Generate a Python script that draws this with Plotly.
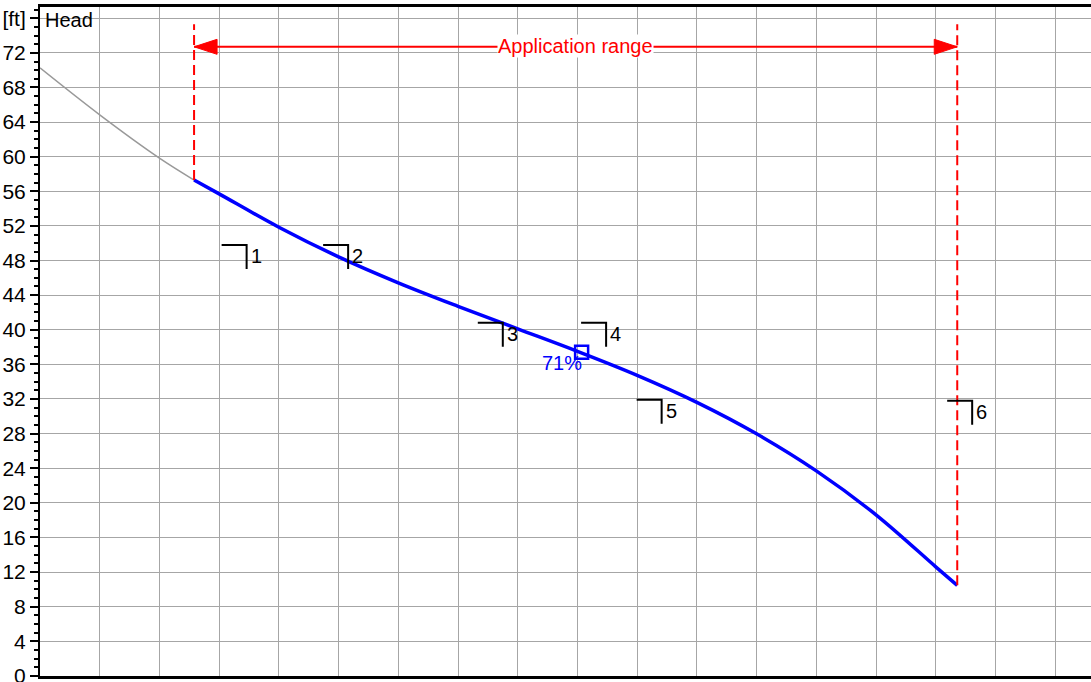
import plotly.graph_objects as go

# pump head curve, flow axis has no labels so flow is in grid units
flow_outside = [0, 1, 2, 2.58]
head_outside = [70.26, 64.83, 59.83, 57.3]

flow_app = [2.58, 3, 4, 5, 6, 7, 8, 9, 10, 11, 12, 13, 14, 15, 15.36]
head_app = [57.3, 55.7, 51.85, 48.42, 45.42, 42.7, 40.1, 37.5, 34.73, 31.61, 27.97, 23.69, 18.61, 12.6, 10.46]

duty_flow = [9.07]
duty_head = [37.4]
duty_label = ["71%"]

corner_labels = ["1", "2", "3", "4", "5", "6"]
corner_flow = [3.46, 5.16, 7.75, 9.48, 10.41, 15.61]
corner_head = [49.8, 49.8, 40.8, 40.8, 31.9, 31.8]

app_limits = [2.58, 15.36]
app_arrow_head = 72.7
app_top_head = 75.3

head_tickvals = [0, 4, 8, 12, 16, 20, 24, 28, 32, 36, 40, 44, 48, 52, 56, 60, 64, 68, 72, 76]
head_ticktext = ["0", "4", "8", "12", "16", "20", "24", "28", "32", "36", "40", "44",
                 "48", "52", "56", "60", "64", "68", "72", "[ft]"]

FONT = "Liberation Sans, Arial, sans-serif"
RED = "#ff0000"
BLUE = "#0000ff"

fig = go.Figure()

fig.add_trace(go.Scatter(x=flow_outside, y=head_outside, mode="lines",
                         line=dict(color="#999999", width=1.5, shape="spline"),
                         hoverinfo="skip"))
fig.add_trace(go.Scatter(x=flow_app, y=head_app, mode="lines",
                         line=dict(color=BLUE, width=3.5, shape="spline"),
                         hoverinfo="skip"))
fig.add_trace(go.Scatter(x=duty_flow, y=duty_head, mode="markers",
                         marker=dict(symbol="square-open", size=13, color=BLUE,
                                     line=dict(width=2.5, color=BLUE)),
                         hoverinfo="skip"))

shapes = []
# application range: dashed limits + arrow
for lim, h0 in zip(app_limits, [head_app[0], head_app[-1]]):
    shapes.append(dict(type="line", xref="x", yref="y", x0=lim, x1=lim, y0=h0, y1=app_top_head,
                       line=dict(color=RED, width=2, dash="10px,5px")))
shapes.append(dict(type="line", xref="x", yref="y", x0=app_limits[0], x1=app_limits[1],
                   y0=app_arrow_head, y1=app_arrow_head, line=dict(color=RED, width=2)))
shapes.append(dict(type="path", xref="x", yref="y", xsizemode="pixel", ysizemode="pixel",
                   xanchor=app_limits[0], yanchor=app_arrow_head,
                   path="M0,0 L23,7.5 L23,-7.5 Z", fillcolor=RED, line=dict(color=RED, width=1)))
shapes.append(dict(type="path", xref="x", yref="y", xsizemode="pixel", ysizemode="pixel",
                   xanchor=app_limits[1], yanchor=app_arrow_head,
                   path="M0,0 L-23,7.5 L-23,-7.5 Z", fillcolor=RED, line=dict(color=RED, width=1)))

# numbered corner marks
for fx, hy in zip(corner_flow, corner_head):
    shapes.append(dict(type="path", xref="x", yref="y", xsizemode="pixel", ysizemode="pixel",
                       xanchor=fx, yanchor=hy, path="M-25,0 L0,0 L0,-24",
                       line=dict(color="black", width=2)))

annotations = []
for lab, fx, hy in zip(corner_labels, corner_flow, corner_head):
    annotations.append(dict(x=fx, y=hy, xref="x", yref="y", text=lab, showarrow=False,
                            xanchor="left", yanchor="middle", xshift=2, yshift=-11,
                            font=dict(family=FONT, size=20, color="black")))

annotations.append(dict(x=duty_flow[0], y=duty_head[0], xref="x", yref="y", text=duty_label[0],
                        showarrow=False, xanchor="right", yanchor="middle", xshift=2, yshift=-11,
                        font=dict(family=FONT, size=20, color=BLUE)))

annotations.append(dict(x=(app_limits[0] + app_limits[1]) / 2, y=app_arrow_head, xref="x", yref="y",
                        text="Application range", showarrow=False, bgcolor="white", borderpad=0,
                        xanchor="center", yanchor="middle", yshift=1,
                        font=dict(family=FONT, size=20, color=RED)))

annotations.append(dict(x=0, y=1, xref="paper", yref="paper", text="Head", showarrow=False,
                        xanchor="left", yanchor="top", xshift=3,
                        font=dict(family=FONT, size=20, color="black")))

fig.update_layout(
    width=1091, height=682,
    margin=dict(l=40, r=0, t=7, b=6),
    paper_bgcolor="white", plot_bgcolor="white",
    showlegend=False,
    shapes=shapes,
    annotations=annotations,
    font=dict(family=FONT, size=20, color="black"),
    xaxis=dict(range=[0, 17.6], dtick=1, tick0=0, showticklabels=False, ticks="",
               showgrid=True, gridcolor="#a6a6a6", gridwidth=1, zeroline=False,
               showline=True, linecolor="black", linewidth=2.5, mirror=True,
               automargin=False),
    yaxis=dict(range=[-0.02, 77.3], tickvals=head_tickvals, ticktext=head_ticktext,
               ticks="outside", ticklen=8, tickwidth=2, tickcolor="black",
               tickfont=dict(family=FONT, size=21, color="black"),
               ticklabeloverflow="allow",
               showgrid=True, gridcolor="#a6a6a6", gridwidth=1, zeroline=False,
               showline=True, linecolor="black", linewidth=2, automargin=False,
               minor=dict(dtick=1, tick0=0, ticks="outside", ticklen=4, tickwidth=1.5,
                          tickcolor="black", showgrid=False)),
)

# page body has a default 8px margin; drop it so the figure sits at the window corner
fig.write_html("out.html", config={"displayModeBar": False},
               post_script="document.body.style.margin='0';document.body.style.overflow='hidden';")
